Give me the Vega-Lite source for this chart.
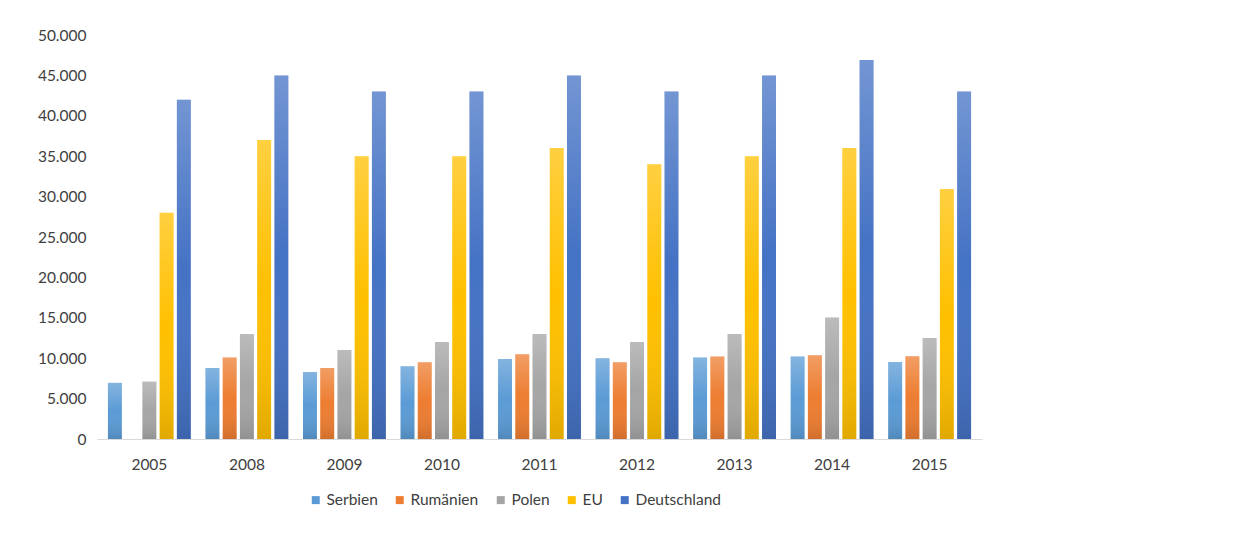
{
  "$schema": "https://vega.github.io/schema/vega-lite/v6.json",
  "width": 885,
  "height": 404,
  "autosize": {"type": "none"},
  "padding": {"left": 97, "top": 35, "right": 270, "bottom": 100},
  "background": "white",
  "config": {
    "view": {"stroke": null},
    "font": "Lato",
    "locale": {"number": {"decimal": ",", "thousands": ".", "grouping": [3], "currency": ["", " €"]}}
  },
  "data": {
    "values": [
      {"Jahr": "2005", "Land": "Serbien", "Wert": 6950},
      {"Jahr": "2005", "Land": "Polen", "Wert": 7100},
      {"Jahr": "2005", "Land": "EU", "Wert": 28000},
      {"Jahr": "2005", "Land": "Deutschland", "Wert": 42000},
      {"Jahr": "2008", "Land": "Serbien", "Wert": 8800},
      {"Jahr": "2008", "Land": "Rumänien", "Wert": 10100},
      {"Jahr": "2008", "Land": "Polen", "Wert": 13000},
      {"Jahr": "2008", "Land": "EU", "Wert": 37000},
      {"Jahr": "2008", "Land": "Deutschland", "Wert": 45000},
      {"Jahr": "2009", "Land": "Serbien", "Wert": 8300},
      {"Jahr": "2009", "Land": "Rumänien", "Wert": 8800},
      {"Jahr": "2009", "Land": "Polen", "Wert": 11000},
      {"Jahr": "2009", "Land": "EU", "Wert": 35000},
      {"Jahr": "2009", "Land": "Deutschland", "Wert": 43000},
      {"Jahr": "2010", "Land": "Serbien", "Wert": 9000},
      {"Jahr": "2010", "Land": "Rumänien", "Wert": 9500},
      {"Jahr": "2010", "Land": "Polen", "Wert": 12000},
      {"Jahr": "2010", "Land": "EU", "Wert": 35000},
      {"Jahr": "2010", "Land": "Deutschland", "Wert": 43000},
      {"Jahr": "2011", "Land": "Serbien", "Wert": 9900},
      {"Jahr": "2011", "Land": "Rumänien", "Wert": 10500},
      {"Jahr": "2011", "Land": "Polen", "Wert": 13000},
      {"Jahr": "2011", "Land": "EU", "Wert": 36000},
      {"Jahr": "2011", "Land": "Deutschland", "Wert": 45000},
      {"Jahr": "2012", "Land": "Serbien", "Wert": 10000},
      {"Jahr": "2012", "Land": "Rumänien", "Wert": 9500},
      {"Jahr": "2012", "Land": "Polen", "Wert": 12000},
      {"Jahr": "2012", "Land": "EU", "Wert": 34000},
      {"Jahr": "2012", "Land": "Deutschland", "Wert": 43000},
      {"Jahr": "2013", "Land": "Serbien", "Wert": 10100},
      {"Jahr": "2013", "Land": "Rumänien", "Wert": 10200},
      {"Jahr": "2013", "Land": "Polen", "Wert": 13000},
      {"Jahr": "2013", "Land": "EU", "Wert": 35000},
      {"Jahr": "2013", "Land": "Deutschland", "Wert": 45000},
      {"Jahr": "2014", "Land": "Serbien", "Wert": 10200},
      {"Jahr": "2014", "Land": "Rumänien", "Wert": 10350},
      {"Jahr": "2014", "Land": "Polen", "Wert": 15050},
      {"Jahr": "2014", "Land": "EU", "Wert": 36000},
      {"Jahr": "2014", "Land": "Deutschland", "Wert": 46900},
      {"Jahr": "2015", "Land": "Serbien", "Wert": 9530},
      {"Jahr": "2015", "Land": "Rumänien", "Wert": 10230},
      {"Jahr": "2015", "Land": "Polen", "Wert": 12500},
      {"Jahr": "2015", "Land": "EU", "Wert": 30950},
      {"Jahr": "2015", "Land": "Deutschland", "Wert": 43000}
    ]
  },
  "encoding": {
    "x": {
      "field": "Jahr", "type": "nominal",
      "scale": {"paddingInner": 0.15, "paddingOuter": 0.112},
      "axis": {
        "title": null, "labelAngle": 0, "ticks": false, "domainColor": "#d9d9d9", "domainWidth": 1,
        "labelFontSize": 15.5, "labelColor": "#404040", "labelPadding": 18, "labelFont": "Lato"
      }
    },
    "xOffset": {
      "field": "Land", "type": "nominal",
      "sort": ["Serbien", "Rumänien", "Polen", "EU", "Deutschland"],
      "scale": {"paddingInner": 0.19, "paddingOuter": 0}
    },
    "y": {
      "field": "Wert", "type": "quantitative",
      "scale": {"domain": [0, 50000], "nice": false},
      "axis": {
        "title": null, "grid": false, "domain": false, "ticks": false, "labelOverlap": false,
        "values": [0, 5000, 10000, 15000, 20000, 25000, 30000, 35000, 40000, 45000, 50000],
        "format": ",.0f", "labelFontSize": 15.5, "labelColor": "#404040", "labelPadding": 11, "labelFont": "Lato"
      }
    }
  },
  "layer": [
    {
      "mark": {"type": "bar"},
      "encoding": {
        "color": {
          "field": "Land", "type": "nominal",
          "scale": {
            "domain": ["Serbien", "Rumänien", "Polen", "EU", "Deutschland"],
            "range": ["#5B9BD5", "#ED7D31", "#A5A5A5", "#FFC000", "#4472C4"]
          },
          "legend": {
            "title": null, "orient": "none", "direction": "horizontal",
            "legendX": 211, "legendY": 457,
            "symbolType": "square", "symbolSize": 64, "symbolStrokeWidth": 0,
            "labelFontSize": 15.5, "labelColor": "#404040", "labelFont": "Lato",
            "columnPadding": 14, "labelOffset": 3
          }
        }
      }
    },
    {
      "mark": {
        "type": "bar",
        "fill": {
          "gradient": "linear", "x1": 0, "y1": 0, "x2": 0, "y2": 1,
          "stops": [
            {"offset": 0, "color": "rgba(255,255,255,0.25)"},
            {"offset": 0.5, "color": "rgba(255,255,255,0)"},
            {"offset": 1, "color": "rgba(0,0,0,0.12)"}
          ]
        }
      },
      "encoding": {}
    }
  ]
}
